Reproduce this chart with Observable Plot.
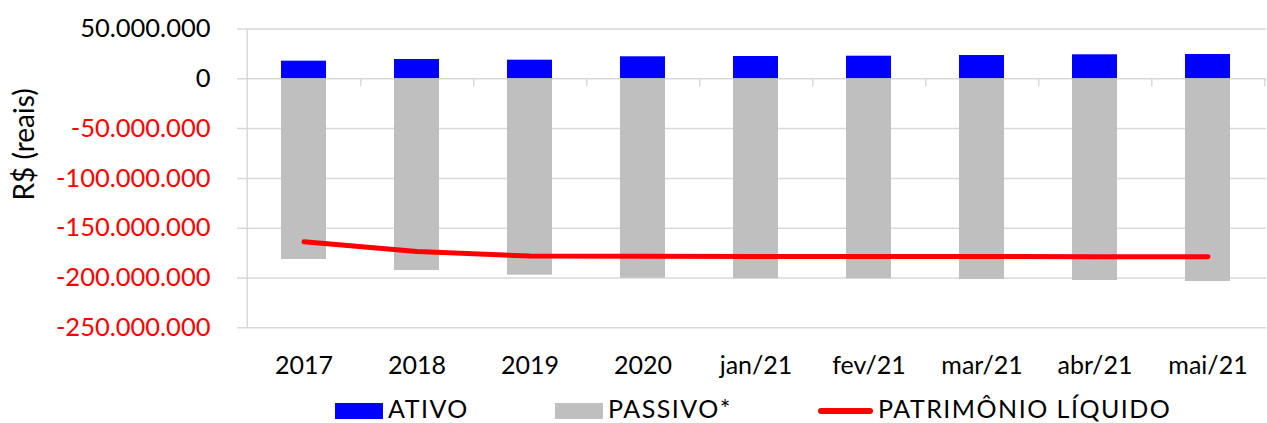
<!DOCTYPE html>
<html><head><meta charset="utf-8">
<script src="https://cdn.jsdelivr.net/npm/d3@7"></script>
<script src="https://cdn.jsdelivr.net/npm/@observablehq/plot@0.6"></script>
<style>
body{margin:0;background:#fff;font-family:Lato,sans-serif;}
#chart{position:relative;width:1267px;height:423px;overflow:hidden;}
#legend{position:absolute;left:335px;top:394px;height:28px;display:flex;align-items:center;font-size:25px;letter-spacing:1.5px;color:#000;line-height:28px;}
.item{display:flex;align-items:center;white-space:nowrap;height:28px;}
.sw{display:inline-block;width:48px;height:16px;margin-right:5px;position:relative;top:3px;}
.ln{display:inline-block;width:55px;height:6px;border-radius:3px;margin-right:5px;position:relative;top:3px;}
</style></head>
<body><div id="chart"></div>
<script>
const categories = ["2017","2018","2019","2020","jan/21","fev/21","mar/21","abr/21","mai/21"];
const ativo = [17.7e6, 19.4e6, 18.7e6, 22.1e6, 22.4e6, 22.7e6, 23.4e6, 24.1e6, 24.4e6];
const passivo = [-181.4e6, -192.5e6, -197.2e6, -200.2e6, -200.8e6, -200.8e6, -201.5e6, -202.5e6, -203.5e6];
const patrimonio = [-163.7e6, -173.3e6, -178.0e6, -178.2e6, -178.3e6, -178.3e6, -178.4e6, -178.6e6, -178.7e6];
const yTicks = [50e6, 0, -50e6, -100e6, -150e6, -200e6, -250e6];
const seriesNames = ["ATIVO", "PASSIVO*", "PATRIMÔNIO LÍQUIDO"];
const seriesColors = ["#0000ff", "#bfbfbf", "#ff0000"];
const yLabel = "R$ (reais)";

const W = 1267, H = 385, mL = 245, mR = 1, mT = 28.5, mB = H - 327.3;
const step = (W - mL - mR) / categories.length;
const locale = d3.formatLocale({decimal: ",", thousands: ".", grouping: [3], currency: ["R$", ""], minus: "-"});
const fmt = locale.format(",d");
const data = categories.map((c, i) => ({c, ativo: ativo[i], passivo: passivo[i], pl: patrimonio[i]}));
const grid = "#d9d9d9";

const plot = Plot.plot({
  width: W, height: H, marginLeft: mL, marginRight: mR, marginTop: mT, marginBottom: mB,
  style: {fontFamily: "Lato, sans-serif", background: "#fff", color: "#000"},
  x: {domain: categories, paddingInner: 0.603, paddingOuter: 0.3015, label: null},
  y: {domain: [-250e6, 50e6], label: null, axis: null},
  marks: [
    Plot.ruleY(yTicks, {stroke: grid, strokeWidth: 1.5, insetLeft: -8}),
    Plot.ruleX([categories[0]], {x: d => d, dx: -step / 2, stroke: grid, strokeWidth: 1.5}),
    Plot.barY(data, {x: "c", y: "ativo", fill: seriesColors[0]}),
    Plot.barY(data, {x: "c", y: "passivo", fill: seriesColors[1]}),
    Plot.ruleX(categories, {x: d => d, y1: 0, y2: 0, insetBottom: -8, dx: step / 2, stroke: grid, strokeWidth: 1.5}),
    Plot.lineY(data, {x: "c", y: "pl", stroke: seriesColors[2], strokeWidth: 5, strokeLinecap: "round", strokeLinejoin: "round"}),
    Plot.text(yTicks, {y: d => d, text: d => fmt(d), frameAnchor: "left", textAnchor: "end", dx: -35, fill: d => d < 0 ? "#ff0000" : "#000", fontSize: 25.5}),
    Plot.axisX({tickSize: 0, tickPadding: 28, fontSize: 25, fill: "#000"}),
    Plot.text([yLabel], {text: d => d, frameAnchor: "left", textAnchor: "middle", dx: -220, dy: -34, rotate: -90, fontSize: 28, fill: "#000"})
  ]
});
const chart = document.getElementById("chart");
chart.appendChild(plot);

const legend = document.createElement("div");
legend.id = "legend";
const widths = [220, 263, null];
seriesNames.forEach((name, i) => {
  const item = document.createElement("div");
  item.className = "item";
  if (widths[i]) item.style.width = widths[i] + "px";
  const sw = document.createElement("span");
  sw.className = i < 2 ? "sw" : "ln";
  sw.style.background = seriesColors[i];
  const t = document.createElement("span");
  t.textContent = name;
  item.appendChild(sw); item.appendChild(t);
  legend.appendChild(item);
});
chart.appendChild(legend);
</script>
</body></html>
